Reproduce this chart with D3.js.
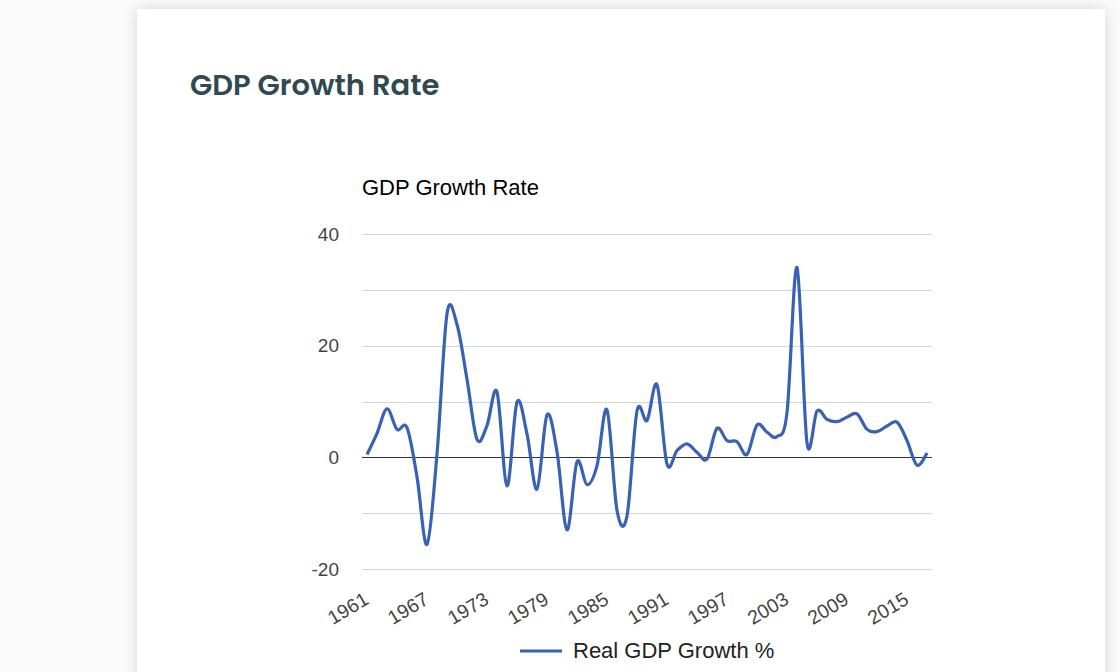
<!DOCTYPE html>
<html>
<head>
<meta charset="utf-8">
<script src="https://cdn.jsdelivr.net/npm/d3@7"></script>
<style>
  html, body { margin: 0; padding: 0; width: 1120px; height: 672px; overflow: hidden; background: #fbfbfb; }
  #card { position: absolute; left: 137px; top: 9px; width: 968px; height: 700px; background: #fff;
          box-shadow: 0 0 14px rgba(0,0,0,0.16); }
  svg { position: absolute; left: 0; top: 0; }
</style>
</head>
<body>
<div id="card"></div>
<svg id="chart" width="1120" height="672"></svg>
<script>
const years = d3.range(1961, 2018).map(String);
const growth = [
  0.5, 4.3, 8.7, 5.0, 5.3, -3.5, -15.6, 0.6, 25.7, 23.8,
  14.0, 3.2, 5.7, 11.7, -5.1, 9.9, 4.2, -5.7, 7.6, 1.0,
  -13.0, -0.8, -4.9, -1.5, 8.5, -9.5, -10.5, 8.3, 6.6, 13.0,
  -1.2, 1.2, 2.4, 0.9, -0.3, 5.2, 3.0, 2.8, 0.5, 5.8,
  4.5, 3.7, 8.0, 34.0, 2.6, 8.3, 6.8, 6.4, 7.2, 7.8,
  5.0, 4.6, 5.6, 6.3, 3.0, -1.4, 0.8
];
const yTicks = [-20, 0, 20, 40];
const yGrid = [-20, -10, 10, 20, 30, 40];
const xTickLabels = ["1961","1967","1973","1979","1985","1991","1997","2003","2009","2015"];
const heading = "GDP Growth Rate";
const chartTitle = "GDP Growth Rate";
const seriesName = "Real GDP Growth %";

const svg = d3.select("#chart");
const lineColor = "#3a62b2";

// card heading
svg.append("text")
  .attr("x", 190).attr("y", 95)
  .attr("font-family", "Poppins, 'Open Sans', sans-serif")
  .attr("font-weight", 600)
  .attr("font-size", 29)
  .attr("fill", "#2f4a50")
  .text(heading);

const x = d3.scaleBand().domain(years).range([362, 932]).padding(0);
const xc = d => x(d) + x.bandwidth() / 2;
const y = d3.scaleLinear().domain([-20, 40]).range([569, 234]);

// chart title
svg.append("text")
  .attr("x", 362).attr("y", 195)
  .attr("font-family", "Arial, 'Liberation Sans', sans-serif")
  .attr("font-size", 22)
  .attr("fill", "#000")
  .text(chartTitle);

// gridlines
const g = svg.append("g");
g.selectAll("line.grid").data(yGrid).join("line")
  .attr("class", "grid")
  .attr("x1", 362).attr("x2", 932)
  .attr("y1", d => Math.round(y(d)) + 0.5).attr("y2", d => Math.round(y(d)) + 0.5)
  .attr("stroke", "#d6d6d6").attr("stroke-width", 1);

// y axis labels
const yAxis = d3.axisLeft(y).tickValues(yTicks).tickSize(0).tickPadding(0).tickFormat(d => String(d));
const ya = svg.append("g").attr("transform", "translate(339,0)").call(yAxis);
ya.select(".domain").remove();
ya.selectAll("text")
  .attr("font-family", "Arial, 'Liberation Sans', sans-serif")
  .attr("font-size", 19)
  .attr("fill", "#444");

// x axis labels
const xAxis = d3.axisBottom(x).tickValues(xTickLabels).tickSize(0).tickPadding(0);
const xa = svg.append("g").call(xAxis);
xa.select(".domain").remove();
xa.selectAll(".tick text")
  .attr("font-family", "Arial, 'Liberation Sans', sans-serif")
  .attr("font-size", 19.5)
  .attr("fill", "#444")
  .attr("text-anchor", "end")
  .attr("dy", null)
  .attr("y", null)
  .attr("transform", "translate(3,603) rotate(-31)");

// zero baseline
svg.append("line")
  .attr("x1", 362).attr("x2", 932)
  .attr("y1", Math.round(y(0)) + 0.5).attr("y2", Math.round(y(0)) + 0.5)
  .attr("stroke", "#333").attr("stroke-width", 1.2);

// series line
const line = d3.line()
  .x((d, i) => xc(years[i]))
  .y(d => y(d))
  .curve(d3.curveCatmullRom.alpha(0));
svg.append("path")
  .datum(growth)
  .attr("d", line)
  .attr("fill", "none")
  .attr("stroke", lineColor)
  .attr("stroke-width", 3.2)
  .attr("stroke-linejoin", "round");

// legend
svg.append("line")
  .attr("x1", 520).attr("x2", 562).attr("y1", 651).attr("y2", 651)
  .attr("stroke", lineColor).attr("stroke-width", 3);
svg.append("text")
  .attr("x", 573).attr("y", 658)
  .attr("font-family", "Arial, 'Liberation Sans', sans-serif")
  .attr("font-size", 22)
  .attr("fill", "#222")
  .text(seriesName);
</script>
</body>
</html>
